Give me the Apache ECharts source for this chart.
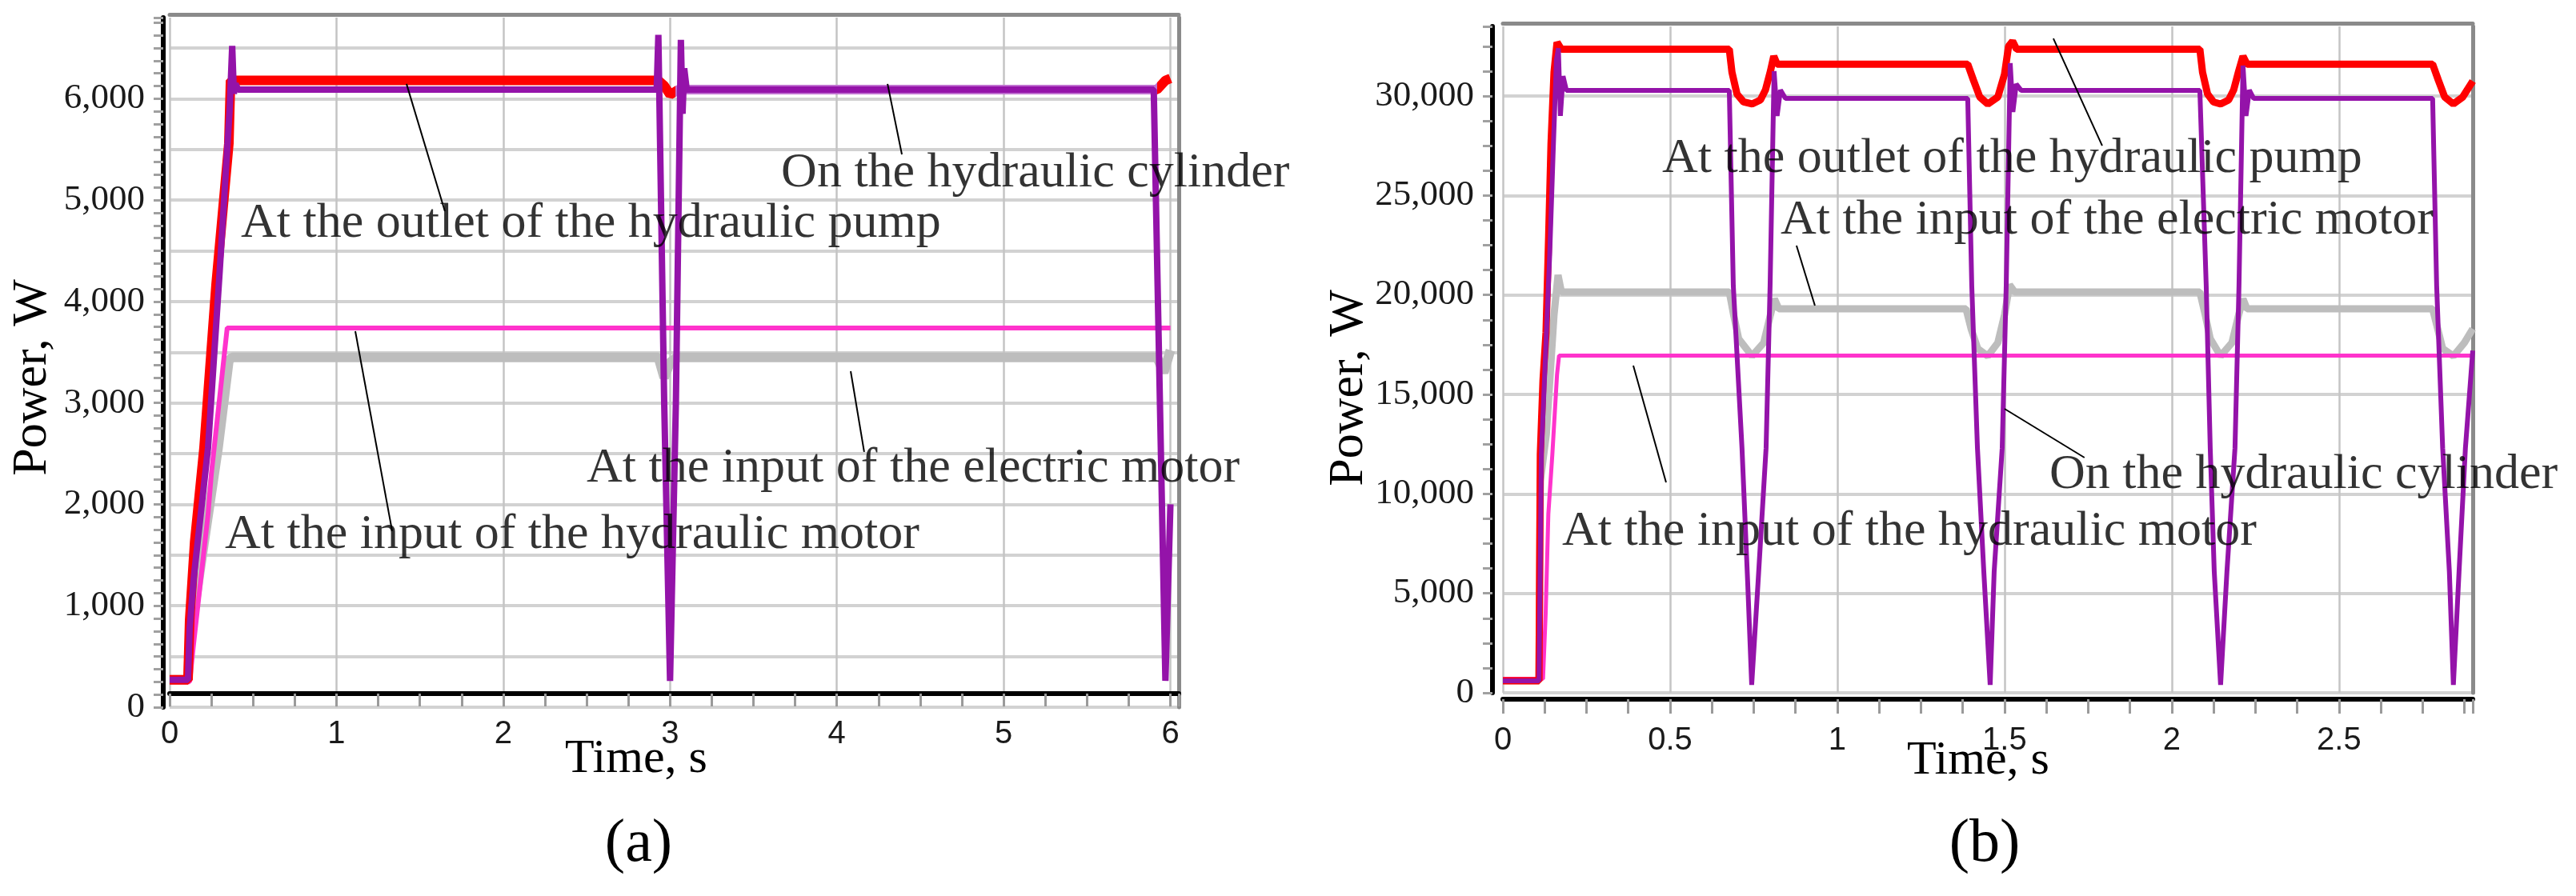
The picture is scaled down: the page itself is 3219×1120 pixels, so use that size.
<!DOCTYPE html>
<html>
<head>
<meta charset="utf-8">
<title>Power, W</title>
<script src="https://cdn.jsdelivr.net/npm/echarts@6/dist/echarts.min.js"></script>
<style>
  html, body { margin: 0; padding: 0; background: #fff; }
  #chart { width: 3219px; height: 1120px; }
</style>
</head>
<body>
<div id="chart"></div>
<script>
// ---------- data, [time s, power W] ----------
// (a)
var electricA = [[0,270],[0.11,270],[0.12,660],[0.29,2555],[0.355,3420],[0.375,3450],[2.93,3450],[2.965,3250],[3.0,3400],[3.04,3450],[5.92,3450],[5.96,3300],[6.0,3520]];
var motorA    = [[0,250],[0.12,250],[0.14,570],[0.23,1900],[0.25,2300],[0.345,3740],[6.0,3740]];
var pumpA     = [[0,270],[0.11,270],[0.12,860],[0.15,1630],[0.206,2555],[0.278,4160],[0.355,5560],[0.365,6180],[2.93,6180],[2.965,6130],[3.0,6040],[3.05,6090],[5.92,6090],[5.97,6180],[6.0,6200]];
var cylA      = [[0,270],[0.11,270],[0.12,780],[0.145,1285],[0.23,2555],[0.3,4300],[0.36,5900],[0.375,6520],[0.385,6050],[0.395,6150],[0.41,6090],[2.92,6090],[2.93,6630],[2.965,3000],[3.0,260],[3.035,3000],[3.065,6580],[3.075,5850],[3.085,6300],[3.1,6090],[5.9,6090],[5.97,260],[6.0,2000]];

// (b)
var electricB = [[0,600],[0.108,600],[0.112,10650],[0.13,13000],[0.153,19000],[0.165,21000],[0.175,20150],
  [0.677,20150],[0.69,19000],[0.705,17800],[0.745,16930],[0.78,17600],[0.8,19000],[0.812,19800],[0.825,19300],
  [1.385,19300],[1.4,18300],[1.42,17300],[1.45,16930],[1.48,17600],[1.5,19000],[1.515,20500],[1.53,20150],
  [2.084,20150],[2.1,19000],[2.115,17800],[2.146,16930],[2.18,17600],[2.2,19000],[2.213,19800],[2.225,19300],
  [2.78,19300],[2.795,18300],[2.81,17300],[2.842,16930],[2.875,17600],[2.9,18300]];
var motorB    = [[0,700],[0.12,700],[0.128,4000],[0.136,9000],[0.148,12000],[0.162,16000],[0.168,16950],[2.9,16950]];
var pumpB     = [[0,600],[0.108,600],[0.112,12000],[0.12,15700],[0.129,18100],[0.137,23000],[0.144,27600],[0.153,31200],[0.162,32700],[0.175,32350],
  [0.677,32350],[0.685,31200],[0.7,30100],[0.72,29700],[0.745,29600],[0.77,29800],[0.785,30300],[0.8,31250],[0.81,32000],[0.82,31600],
  [1.39,31600],[1.407,30800],[1.426,29950],[1.45,29600],[1.48,29950],[1.5,31100],[1.512,32500],[1.524,32750],[1.536,32350],
  [2.084,32350],[2.092,31200],[2.107,30100],[2.125,29700],[2.146,29600],[2.17,29800],[2.185,30300],[2.2,31250],[2.213,32000],[2.225,31600],
  [2.78,31600],[2.797,30800],[2.816,29950],[2.842,29600],[2.87,29950],[2.9,30750]];
var cylB      = [[0,600],[0.108,600],[0.115,12000],[0.125,16000],[0.14,22000],[0.15,27000],[0.16,31800],[0.166,32400],[0.172,29000],[0.18,31000],[0.19,30280],
  [0.677,30280],[0.689,20470],[0.715,12300],[0.732,5550],[0.744,400],[0.763,5550],[0.787,12300],[0.799,20470],[0.811,31250],[0.82,29000],[0.83,30300],[0.845,29880],
  [1.39,29880],[1.402,20470],[1.419,12300],[1.438,6100],[1.457,400],[1.469,6100],[1.493,12300],[1.505,20470],[1.517,31650],[1.525,29200],[1.535,30600],[1.55,30280],
  [2.084,30280],[2.103,20470],[2.115,12300],[2.127,6100],[2.146,400],[2.165,6100],[2.189,12300],[2.201,20470],[2.213,31530],[2.222,29000],[2.232,30300],[2.245,29880],
  [2.78,29880],[2.792,20470],[2.81,12300],[2.83,6100],[2.842,400],[2.859,6100],[2.878,12300],[2.9,17200]];

// tick labels
var xLabelsA = [0, 1, 2, 3, 4, 5, 6];
var yLabelsA = [0, 1000, 2000, 3000, 4000, 5000, 6000];
var xLabelsB = [0, 0.5, 1, 1.5, 2, 2.5];
var yLabelsB = [0, 5000, 10000, 15000, 20000, 25000, 30000];

// callouts: text + where it starts (data units), and the leader lines
var notesA = [
  ['At the outlet of the hydraulic pump', 0.427, 4765],
  ['On the hydraulic cylinder', 3.666, 5262],
  ['At the input of the electric motor', 2.5, 2351],
  ['At the input of the hydraulic motor', 0.331, 1696]
];
var leadersA = [
  [[1.42, 6146], [1.65, 4891]],
  [[4.304, 6146], [4.39, 5451]],
  [[4.083, 3313], [4.164, 2517]],
  [[1.113, 3708], [1.334, 1736]]
];
var notesB = [
  ['At the outlet of the hydraulic pump', 0.476, 26823],
  ['At the input of the electric motor', 0.83, 23726],
  ['On the hydraulic cylinder', 1.634, 10938],
  ['At the input of the hydraulic motor', 0.177, 8083]
];
var leadersB = [
  [[1.646, 32895], [1.792, 27506]],
  [[0.878, 22480], [0.933, 19464]],
  [[1.5, 14276], [1.739, 11823]],
  [[0.39, 16447], [0.488, 10576]]
];

// ---------- helpers ----------
var SERIF = 'Liberation Serif';
var RED = '#ff0000', PURPLE = '#9413a9', PINK = '#ff33cc', GREY = '#bdbdbd';

function thousands(v) {
  return String(v).replace(/\B(?=(\d{3})+(?!\d))/g, ',');
}

// bottom time axis
function timeAxis(grid, max, step, labels, offset, margin, tickLen) {
  return {
    type: 'value', gridIndex: grid, min: 0, max: max, interval: step, offset: offset,
    axisLine: { show: true, onZero: false, lineStyle: { color: '#000', width: 6 } },
    axisTick: { show: true, length: tickLen, lineStyle: { color: '#9a9a9a', width: 3 } },
    minorTick: { show: true, splitNumber: 4, length: tickLen, lineStyle: { color: '#9a9a9a', width: 3 } },
    axisLabel: {
      margin: margin, fontFamily: 'Liberation Sans', fontSize: 40, color: '#1a1a1a',
      formatter: function (v) { return labels.indexOf(v) >= 0 ? String(v) : ''; }
    },
    splitLine: { show: true, showMaxLine: false, lineStyle: { color: '#c4c4c4', width: 2.5 } }
  };
}

// left power axis
function powerAxis(grid, max, step, labels, offset) {
  return {
    type: 'value', gridIndex: grid, min: 0, max: max, interval: step, offset: offset,
    axisLine: { show: true, onZero: false, lineStyle: { color: '#000', width: 6 } },
    axisTick: { show: true, length: 12, lineStyle: { color: '#a0a0a0', width: 3 } },
    minorTick: { show: true, splitNumber: 4, length: 12, lineStyle: { color: '#a0a0a0', width: 3 } },
    axisLabel: {
      margin: 23, fontFamily: SERIF, fontSize: 45, color: '#1a1a1a',
      formatter: function (v) { return labels.indexOf(v) >= 0 ? thousands(v) : ''; }
    },
    splitLine: { show: true, showMaxLine: false, lineStyle: { color: '#d2d2d2', width: 4 } }
  };
}

// grey frame on top / right
function frameX(grid, max) {
  return {
    type: 'value', gridIndex: grid, position: 'top', min: 0, max: max, offset: 4,
    axisLine: { show: true, onZero: false, lineStyle: { color: '#8a8a8a', width: 5 } },
    axisTick: { show: false }, axisLabel: { show: false }, splitLine: { show: false }
  };
}
function frameY(grid, max) {
  return {
    type: 'value', gridIndex: grid, position: 'right', min: 0, max: max,
    axisLine: { show: true, onZero: false, lineStyle: { color: '#8a8a8a', width: 5 } },
    axisTick: { show: false }, axisLabel: { show: false }, splitLine: { show: false }
  };
}

function curve(name, data, ax, color, width) {
  var s = {
    name: name, type: 'line', xAxisIndex: ax, yAxisIndex: ax, data: data,
    showSymbol: false, symbol: 'none', silent: true,
    lineStyle: { width: width }
  };
  if (color) s.lineStyle.color = color;
  else s.itemStyle = { color: RED };
  return s;
}

function leaders(list, ax) {
  return list.map(function (seg) {
    return {
      type: 'line', xAxisIndex: ax, yAxisIndex: ax, data: seg, showSymbol: false, symbol: 'none',
      silent: true, z: 10, lineStyle: { color: '#000', width: 2 }
    };
  });
}

function notes(list, ax) {
  return {
    type: 'scatter', xAxisIndex: ax, yAxisIndex: ax, silent: true, z: 12,
    symbolSize: 0, itemStyle: { color: '#000' },
    data: list.map(function (n) { return { name: n[0], value: [n[1], n[2]] }; }),
    label: {
      show: true, position: 'right', distance: 0, formatter: '{b}',
      fontFamily: SERIF, fontSize: 62, color: '#000', textBorderWidth: 0
    }
  };
}

function caption(text, x, y, size, rot) {
  return {
    type: 'text', x: x, y: y, rotation: rot || 0, silent: true,
    style: {
      text: text, font: size + 'px "' + SERIF + '"', fill: '#000',
      align: 'center', verticalAlign: 'middle', textAlign: 'center', textVerticalAlign: 'middle'
    }
  };
}

// ---------- chart ----------
var myChart = echarts.init(document.getElementById('chart'));

var series = [
  curve('At the input of the electric motor', electricA, 0, GREY, 12),
  curve('At the input of the hydraulic motor', motorA, 0, PINK, 6),
  curve('At the outlet of the hydraulic pump', pumpA, 0, null, 12),   // coloured by visualMap
  curve('On the hydraulic cylinder', cylA, 0, PURPLE, 8)
].concat(leaders(leadersA, 0), [notes(notesA, 0)], [
  curve('At the input of the electric motor', electricB, 2, GREY, 9),
  curve('At the input of the hydraulic motor', motorB, 2, PINK, 5),
  curve('At the outlet of the hydraulic pump', pumpB, 2, RED, 9),
  curve('On the hydraulic cylinder', cylB, 2, PURPLE, 6)
], leaders(leadersB, 2), [notes(notesB, 2)]);

myChart.setOption({
  animation: false,
  backgroundColor: '#fff',
  textStyle: { fontFamily: SERIF },
  grid: [
    { left: 212, top: 22, width: 1261, height: 862 },
    { left: 1878, top: 33, width: 1212, height: 833 }
  ],
  xAxis: [
    timeAxis(0, 6.05, 1, xLabelsA, -17, 31, 16),
    frameX(0, 6.05),
    timeAxis(1, 2.9, 0.5, xLabelsB, 8, 32, 18),
    frameX(1, 2.9)
  ],
  yAxis: [
    powerAxis(0, 6800, 500, yLabelsA, 8),
    frameY(0, 6800),
    powerAxis(1, 33500, 5000, yLabelsB, 13),
    frameY(1, 33500)
  ],
  // pump curve in (a) runs under the cylinder curve after 3 s
  visualMap: {
    show: false, type: 'piecewise', seriesIndex: 2, dimension: 0,
    pieces: [
      { lt: 3.03, color: RED },
      { gte: 3.03, lte: 5.92, color: '#c070d0' },
      { gt: 5.92, color: RED }
    ]
  },
  graphic: [
    caption('Power, W', 41, 472, 62, Math.PI / 2),
    caption('Time, s', 795, 949, 60),
    caption('(a)', 798, 1056, 76),
    caption('Power, W', 1686, 485, 62, Math.PI / 2),
    caption('Time, s', 2472, 951, 60),
    caption('(b)', 2480, 1056, 76)
  ],
  series: series
});
</script>
</body>
</html>
